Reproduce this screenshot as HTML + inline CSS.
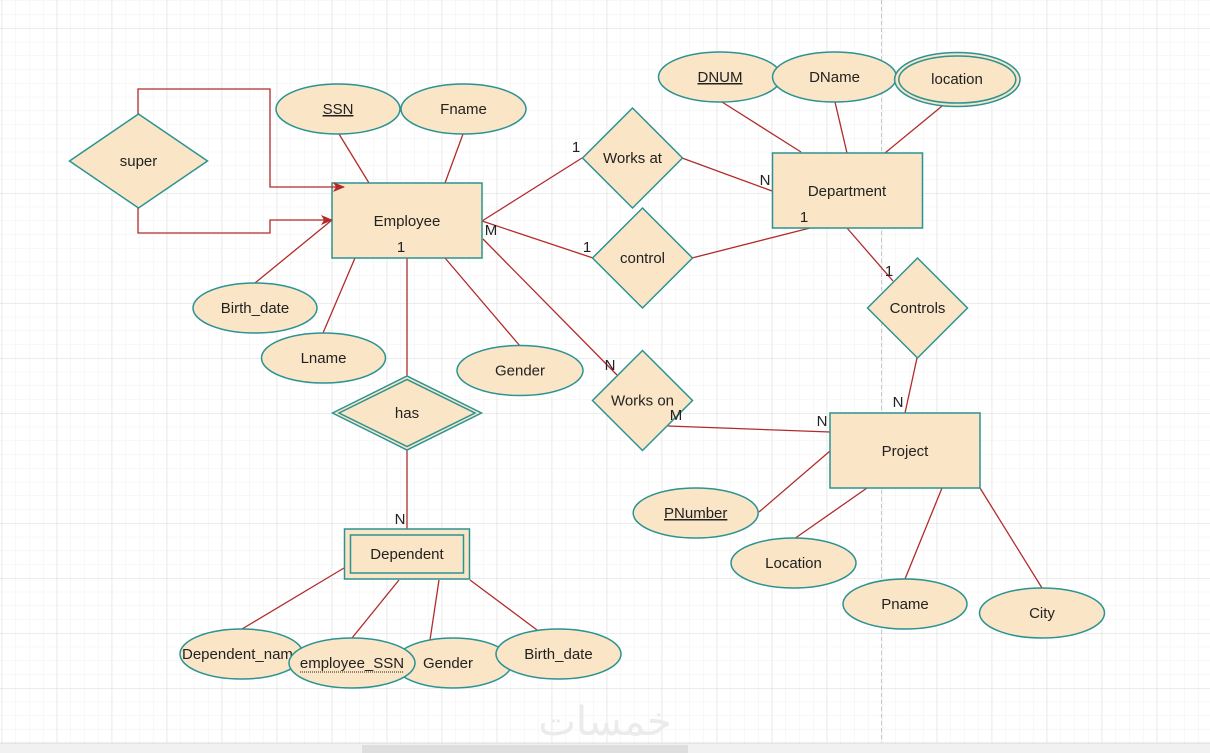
<!DOCTYPE html>
<html><head><meta charset="utf-8"><style>
html,body{margin:0;padding:0;background:#fff;}
svg{display:block;}
text{font-family:"Liberation Sans",Arial,sans-serif;font-size:15px;fill:#222;}
</style></head><body>
<svg width="1210" height="753" viewBox="0 0 1210 753" xmlns="http://www.w3.org/2000/svg">
<defs>
<pattern id="minor" patternUnits="userSpaceOnUse" x="1.7" y="0.5" width="13.75" height="13.75">
<path d="M0 0V13.75M0 0H13.75" stroke="#f0f0f0" stroke-width="1" fill="none"/>
</pattern>
<pattern id="major" patternUnits="userSpaceOnUse" x="1.7" y="28" width="55" height="55">
<path d="M0 0V55M0 0H55" stroke="#d9d9d9" stroke-width="1" fill="none"/>
</pattern>
<marker id="arr" markerWidth="12" markerHeight="12" refX="11" refY="6" orient="auto" markerUnits="userSpaceOnUse">
<path d="M0,1 L12,6 L0,11 L3,6 Z" fill="#b22b2b"/>
</marker>
</defs>
<rect width="1210" height="753" fill="#fff"/>
<rect width="1210" height="743" fill="url(#minor)"/>
<rect width="1210" height="743" fill="url(#major)"/>
<line x1="881.5" y1="0" x2="881.5" y2="743" stroke="#c8c8c8" stroke-dasharray="4,3"/>
<!-- watermark -->
<text x="605" y="735" text-anchor="middle" style="font-family:'DejaVu Sans',sans-serif;font-size:40px;fill:#ebebeb;">خمسات</text>
<!-- bottom bar -->
<rect x="0" y="743" width="1210" height="10" fill="#f1f1f1"/>
<line x1="0" y1="743" x2="1210" y2="743" stroke="#dcdcdc"/>
<rect x="362" y="745" width="326" height="8" fill="#dedede"/>

<g stroke="#b22b2b" stroke-width="1.3" fill="none">
<!-- employee attrs -->
<line x1="339" y1="134" x2="369" y2="183"/>
<line x1="463" y1="134" x2="445" y2="183"/>
<line x1="255" y1="283" x2="332" y2="220"/>
<line x1="323" y1="333" x2="355" y2="258"/>
<line x1="520" y1="346" x2="445" y2="258"/>
<line x1="407" y1="258" x2="407" y2="376"/>
<line x1="407" y1="450" x2="407" y2="529"/>
<!-- relationships -->
<line x1="482" y1="221" x2="582" y2="158"/>
<line x1="682" y1="158" x2="772" y2="191"/>
<line x1="482" y1="221" x2="593" y2="258"/>
<line x1="692" y1="258" x2="810" y2="228"/>
<line x1="847" y1="228" x2="893" y2="281"/>
<line x1="917" y1="358" x2="905" y2="413"/>
<line x1="483" y1="239" x2="617" y2="375"/>
<line x1="668" y1="426" x2="830" y2="432"/>
<!-- dept attrs -->
<line x1="722" y1="102" x2="801" y2="152"/>
<line x1="835" y1="102" x2="847" y2="153"/>
<line x1="947" y1="102" x2="885" y2="153"/>
<!-- project attrs -->
<line x1="759" y1="512" x2="830" y2="451"/>
<line x1="794" y1="539" x2="867" y2="488"/>
<line x1="905" y1="579" x2="942" y2="488"/>
<line x1="1042" y1="588" x2="980" y2="488"/>
<!-- dependent attrs -->
<line x1="344" y1="568" x2="242" y2="629"/>
<line x1="399" y1="580" x2="352" y2="638"/>
<line x1="439" y1="580" x2="430" y2="640"/>
<line x1="470" y1="580" x2="537" y2="630"/>
</g>

<g fill="#fae5c6" stroke="#2a9393" stroke-width="1.5">
<!-- super -->
<polygon points="69.5,161 138.5,114 207.5,161 138.5,208"/>
<!-- Employee -->
<rect x="332" y="183" width="150" height="75"/>
<!-- SSN / Fname -->
<ellipse cx="338" cy="109" rx="62" ry="25"/>
<ellipse cx="463.5" cy="109" rx="62.5" ry="25"/>
<ellipse cx="255" cy="308" rx="62" ry="25"/>
<ellipse cx="323.5" cy="358" rx="62" ry="25"/>
<ellipse cx="520" cy="370.5" rx="63" ry="25"/>
<!-- has -->
<polygon points="332.5,413 407,376 481.5,413 407,450"/>
<polygon points="339,413 407,379.5 475,413 407,446.5"/>
<!-- Dependent -->
<rect x="344.5" y="529" width="125" height="50"/>
<rect x="350.5" y="535" width="113" height="38"/>
<!-- dependent attrs -->
<ellipse cx="241.5" cy="654" rx="61.5" ry="25"/>
<ellipse cx="453" cy="663" rx="59" ry="25"/>
<!-- Department -->
<ellipse cx="720" cy="77" rx="61.5" ry="25"/>
<ellipse cx="834.5" cy="77" rx="62" ry="25"/>
<ellipse cx="957.3" cy="79.5" rx="62.7" ry="27"/>
<ellipse cx="957.3" cy="79.5" rx="58.5" ry="23.5"/>
<rect x="772.5" y="153" width="150" height="75"/>
<!-- diamonds -->
<polygon points="582.5,158 632.5,108 682.5,158 632.5,208"/>
<polygon points="592.5,258 642.5,208 692.5,258 642.5,308"/>
<polygon points="867.5,308 917.5,258 967.5,308 917.5,358"/>
<polygon points="592.5,400.5 642.5,350.5 692.5,400.5 642.5,450.5"/>
<!-- Project -->
<rect x="830" y="413" width="150" height="75"/>
<ellipse cx="695.7" cy="513" rx="62.5" ry="25"/>
<ellipse cx="793.5" cy="563" rx="62.5" ry="25"/>
<ellipse cx="905" cy="604" rx="62" ry="25"/>
<ellipse cx="1042" cy="613" rx="62.5" ry="25"/>
</g>

<!-- super connectors drawn on top -->
<g stroke="#b22b2b" stroke-width="1.3" fill="none">
<polyline points="138,114 138,89 270,89 270,187 344,187" marker-end="url(#arr)"/>
<polyline points="138,208 138,233 270,233 270,220 332,220" marker-end="url(#arr)"/>
</g>

<g text-anchor="middle">
<text x="138.5" y="166">super</text>
<text x="407" y="226">Employee</text>
<text x="338" y="114" text-decoration="underline">SSN</text>
<text x="463.5" y="114">Fname</text>
<text x="255" y="313">Birth_date</text>
<text x="323.5" y="363">Lname</text>
<text x="520" y="375.5">Gender</text>
<text x="407" y="418">has</text>
<text x="407" y="559">Dependent</text>
<text x="720" y="82" text-decoration="underline">DNUM</text>
<text x="834.5" y="82">DName</text>
<text x="957" y="84">location</text>
<text x="847" y="196">Department</text>
<text x="632.5" y="163">Works at</text>
<text x="642.5" y="263">control</text>
<text x="917.5" y="313">Controls</text>
<text x="642.5" y="405.5">Works on</text>
<text x="905" y="456">Project</text>
<text x="695.7" y="518" text-decoration="underline">PNumber</text>
<text x="793.5" y="568">Location</text>
<text x="905" y="609">Pname</text>
<text x="1042" y="618">City</text>
</g>
<!-- Dependent_name partially hidden -->
<text x="182" y="659">Dependent_nam</text>
<g fill="#fae5c6" stroke="#2a9393" stroke-width="1.5">
<ellipse cx="352" cy="663" rx="63" ry="25"/>
</g>
<text x="448" y="668" text-anchor="middle">Gender</text>
<text x="352" y="668" text-anchor="middle">employee_SSN</text>
<line x1="300" y1="672" x2="404" y2="672" stroke="#222" stroke-width="1" stroke-dasharray="1,1"/>
<g fill="#fae5c6" stroke="#2a9393" stroke-width="1.5">
<ellipse cx="558.5" cy="654" rx="62.5" ry="25"/>
</g>
<text x="558.5" y="659" text-anchor="middle">Birth_date</text>

<!-- cardinality labels -->
<g text-anchor="middle">
<text x="576" y="152">1</text>
<text x="765" y="185">N</text>
<text x="804" y="222">1</text>
<text x="587" y="252">1</text>
<text x="491" y="235">M</text>
<text x="401" y="252">1</text>
<text x="889" y="276">1</text>
<text x="898" y="407">N</text>
<text x="822" y="426">N</text>
<text x="676" y="420">M</text>
<text x="610" y="370">N</text>
<text x="400" y="524">N</text>
</g>
</svg>
</body></html>
